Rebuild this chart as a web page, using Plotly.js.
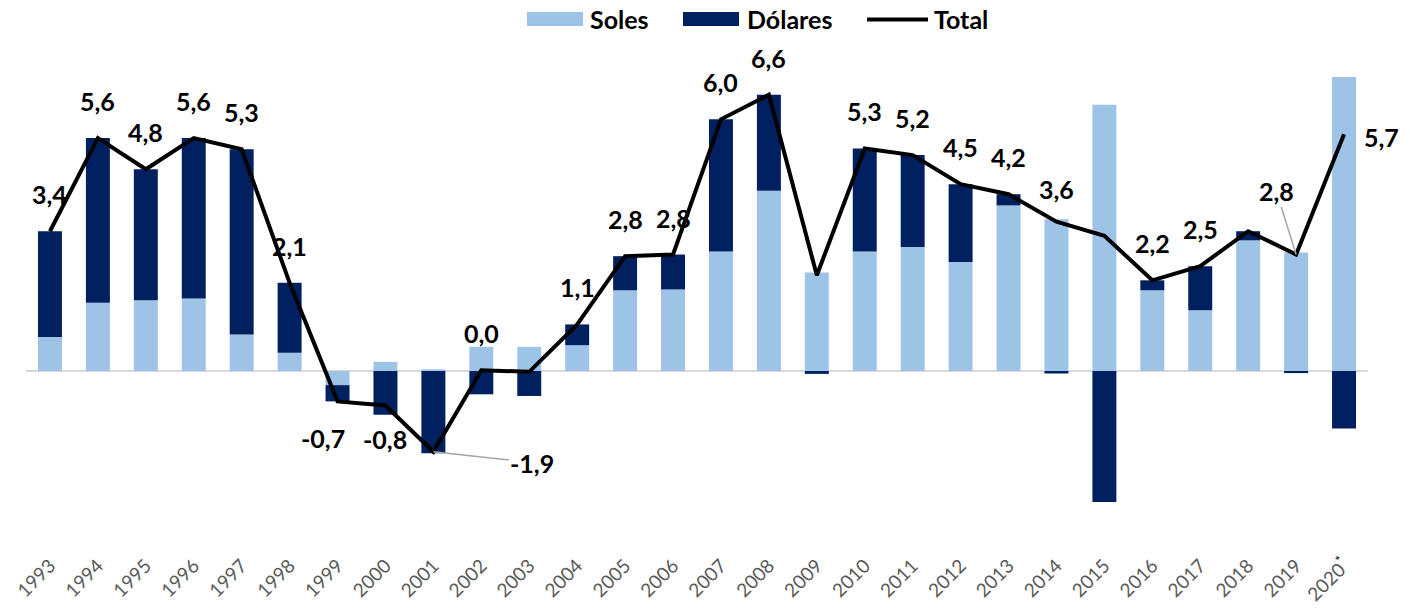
<!DOCTYPE html>
<html><head><meta charset="utf-8">
<script src="https://cdn.plot.ly/plotly-3.0.1.min.js"></script>
<style>html,body{margin:0;padding:0;background:#fff}#chart{width:1410px;height:608px}</style>
</head><body><div id="chart"></div>
<script>
// ---- data ----
const years = ['1993','1994','1995','1996','1997','1998','1999','2000','2001','2002','2003','2004','2005','2006','2007','2008','2009','2010','2011','2012','2013','2014','2015','2016','2017','2018','2019','2020'];
const yearTickText = ['1993','1994','1995','1996','1997','1998','1999','2000','2001','2002','2003','2004','2005','2006','2007','2008','2009','2010','2011','2012','2013','2014','2015','2016','2017','2018','2019','2020<sup><span style="color:#000">*</span></sup>'];
const soles = [0.82,1.64,1.70,1.74,0.88,0.44,-0.34,0.22,0.04,0.58,0.58,0.62,1.94,1.96,2.87,4.33,2.37,2.87,2.98,2.62,3.98,3.65,6.40,1.94,1.46,3.14,2.85,7.07];
const dolares = [2.54,3.96,3.15,3.86,4.45,1.68,-0.39,-1.05,-1.98,-0.56,-0.60,0.50,0.82,0.84,3.18,2.31,-0.07,2.48,2.21,1.87,0.27,-0.06,-3.15,0.24,1.06,0.22,-0.05,-1.38];
const total = [3.36,5.60,4.85,5.60,5.33,2.12,-0.73,-0.83,-1.94,0.02,-0.02,1.12,2.76,2.80,6.05,6.64,2.30,5.35,5.19,4.49,4.25,3.59,3.25,2.18,2.52,3.36,2.80,5.69];
const totalLabels = ['3,4','5,6','4,8','5,6','5,3','2,1','-0,7','-0,8','-1,9','0,0',null,'1,1','2,8','2,8','6,0','6,6',null,'5,3','5,2','4,5','4,2','3,6',null,'2,2','2,5',null,'2,8','5,7'];

// ---- label placement (styling, px) ----
const labelOffsets = {
  '1999': {dx:-15, dy:-37}, '2000': {dx:0, dy:-33}, '2014': {dx:0, dy:33},
  '2020': {dx:37, dy:-3}
};
const leaderLabels = { '2001': {ax:99, ay:11}, '2019': {ax:-20, ay:-64} };

const FONT = 'Lato, "Open Sans", sans-serif';
const cSoles = '#9DC3E6', cDol = '#002060';
const idx = years.map((_,i)=>i);

const traces = [
  {type:'bar', name:'Soles', x:idx, y:soles, marker:{color:cSoles}, hoverinfo:'y'},
  {type:'bar', name:'Dólares', x:idx, y:dolares, marker:{color:cDol}, hoverinfo:'y'},
  {type:'scatter', mode:'lines', name:'Total', x:idx, y:total, line:{color:'#000', width:4}, hoverinfo:'y'}
];

const annotations = [];
years.forEach((yr,i)=>{
  const t = totalLabels[i];
  if(!t) return;
  const base = {x:i, y:total[i], xref:'x', yref:'y', text:t,
    font:{family:FONT, size:25, color:'#000', weight:700}};
  if(leaderLabels[yr]){
    Object.assign(base, {showarrow:true, arrowhead:0, arrowwidth:1.5, arrowcolor:'#A6A6A6',
      ax:leaderLabels[yr].ax, ay:leaderLabels[yr].ay, standoff:0});
  } else {
    const o = labelOffsets[yr] || {dx:0, dy:37};
    Object.assign(base, {showarrow:false, xshift:o.dx, yshift:o.dy});
  }
  annotations.push(base);
});

// manual legend (paper coords from px)
const L=26, W=1342, T=40, H=510;
const px = v => (v-L)/W, py = v => (T+H-v)/H;
const shapes = [
  {type:'rect', xref:'paper', yref:'paper', x0:px(527), x1:px(583), y0:py(26), y1:py(12), fillcolor:cSoles, line:{width:0}},
  {type:'rect', xref:'paper', yref:'paper', x0:px(683), x1:px(739), y0:py(26), y1:py(12), fillcolor:cDol, line:{width:0}},
  {type:'line', xref:'paper', yref:'paper', x0:px(867), x1:px(928), y0:py(19.5), y1:py(19.5), line:{color:'#000', width:4}}
];
[['Soles',588],['Dólares',745],['Total',932]].forEach(([txt,x])=>{
  annotations.push({xref:'paper', yref:'paper', x:px(x), y:py(19.5), xanchor:'left', yanchor:'middle',
    text:txt, showarrow:false, font:{family:FONT, size:25, color:'#000', weight:700}});
});

const layout = {
  width:1410, height:608,
  margin:{l:L, r:1410-L-W, t:T, b:608-T-H, pad:0},
  paper_bgcolor:'#fff', plot_bgcolor:'#fff',
  barmode:'relative', bargap:0.5,
  showlegend:false,
  font:{family:FONT},
  xaxis:{type:'linear', range:[-0.5, years.length-0.5], tickmode:'array', tickvals:idx, ticktext:yearTickText, tickangle:-45,
    tickfont:{family:FONT, size:19, color:'#595959'}, showgrid:false, showline:false, ticks:'',
    zeroline:false, fixedrange:true},
  yaxis:{range:[-(T+H-371)/41.6, (371-T)/41.6], showgrid:false, showticklabels:false, ticks:'',
    zeroline:true, zerolinecolor:'#D9D9D9', zerolinewidth:2, showline:false, fixedrange:true},
  shapes, annotations
};
Plotly.newPlot('chart', traces, layout, {displayModeBar:false, staticPlot:true});
</script></body></html>
